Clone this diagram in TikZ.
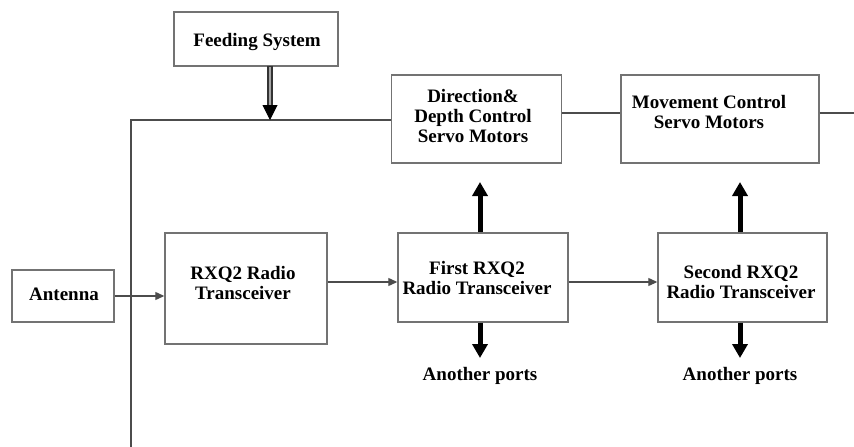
\documentclass[tikz,border=0pt]{standalone}
\usepackage{fontspec}
\setmainfont{Liberation Serif}
\usetikzlibrary{arrows.meta}
\begin{document}
\begin{tikzpicture}[x=1pt,y=-1pt,
  box/.style={draw=black!55, line width=1.4pt, fill=white, inner sep=0pt},
  lbl/.style={font=\fontsize{19}{20}\selectfont\bfseries, align=center, inner sep=0pt, text=black},
  wire/.style={draw=black!70, line width=1.2pt},
  thin/.style={wire, -{Triangle[length=9pt,width=8pt]}},
  thick/.style={draw=black, line width=5pt, -{Triangle[length=14pt,width=15pt]}}]
\useasboundingbox (0,0) rectangle (854,447);
% boxes
\node[box, minimum width=164pt, minimum height=54pt] (feed) at (256,39) {};
\node[lbl] (feedt) at (257,42) {Feeding System};
\node[box, minimum width=170pt, minimum height=88pt] (dir) at (476.5,119) {};
\node[lbl] (dirt) at (473,116) {Direction\&\\Depth Control\\Servo Motors};
\node[box, minimum width=198pt, minimum height=88pt] (mov) at (720,119) {};
\node[lbl] (movt) at (709,112) {Movement Control\\Servo Motors};
\node[box, minimum width=102pt, minimum height=52pt] (ant) at (63,296) {};
\node[lbl] (antt) at (64,294) {Antenna};
\node[box, minimum width=162pt, minimum height=111pt] (rxq) at (246,288.5) {};
\node[lbl] (rxqt) at (243,283) {RXQ2 Radio\\Transceiver};
\node[box, minimum width=170pt, minimum height=89pt] (first) at (483,277.5) {};
\node[lbl] (firstt) at (477,278) {First RXQ2\\Radio Transceiver};
\node[box, minimum width=169pt, minimum height=89pt] (second) at (742.5,277.5) {};
\node[lbl] (secondt) at (741,282) {Second RXQ2\\Radio Transceiver};
\node[lbl] (ap1) at (480,376) {Another ports};
\node[lbl] (ap2) at (740,376) {Another ports};
% coordinates
\coordinate (tl) at (131,120);
\coordinate (bl) at (131,447);
\coordinate (re) at (854,113);
\coordinate (fs) at (270,66);
\coordinate (fe) at (270,120);
\coordinate (u1) at (480,182);
\coordinate (d1) at (480,358);
\coordinate (u2) at (740,182);
\coordinate (d2) at (740,358);
% bus lines
\draw[wire] (bl) -- (tl) -- (dir.west |- tl);
\draw[wire] (dir.east |- re) -- (mov.west |- re);
\draw[wire] (mov.east |- re) -- (re);
% feeding double arrow
\draw[draw=black!80, line width=6pt] (fs) -- ([yshift=13pt]fe);
\draw[draw=black!35, line width=2.5pt] ([yshift=-1pt]fs) -- ([yshift=13pt]fe);
\draw[draw=black, line width=1pt, -{Triangle[length=15pt,width=15pt]}] ([yshift=15pt]fe) -- (fe);
% thin arrows
\draw[thin] (ant.east) -- (rxq.west |- ant.east);
\draw[thin] (rxq.east |- 0,282) -- (first.west |- 0,282);
\draw[thin] (first.east |- 0,282) -- (second.west |- 0,282);
% thick arrows
\draw[thick] (first.north -| u1) -- (u1);
\draw[thick] (first.south -| d1) -- (d1);
\draw[thick] (second.north -| u2) -- (u2);
\draw[thick] (second.south -| d2) -- (d2);
\end{tikzpicture}
\end{document}
